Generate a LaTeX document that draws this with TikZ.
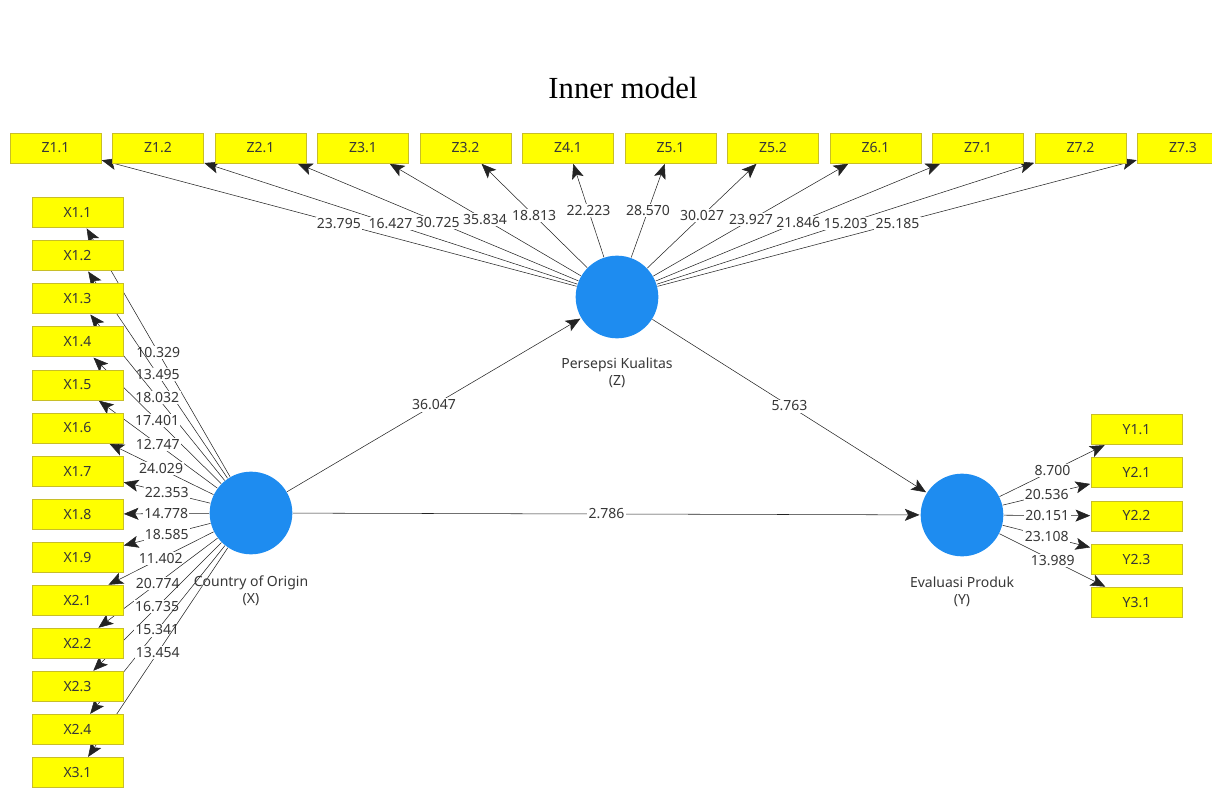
\documentclass[tikz,border=0pt]{standalone}
\usepackage{fontspec}
\setsansfont{Noto Sans}
\newfontfamily\titlefont{Liberation Serif}
\usetikzlibrary{arrows.meta}

\definecolor{itemyellow}{RGB}{255,255,0}
\definecolor{itemborder}{RGB}{200,190,40}
\definecolor{latentblue}{RGB}{30,140,240}
\definecolor{labelgray}{RGB}{55,55,55}
\definecolor{linegray}{RGB}{35,35,35}

\pgfdeclarelayer{background}
\pgfsetlayers{background,main}

\begin{document}
\begin{tikzpicture}[x=0.75pt,y=-0.75pt,shorten >=0.5pt,line width=0.75pt,
  loading/.style={-{Stealth[length=11pt,width=9pt,inset=2.5pt]},linegray,every node/.style={value}},
  item node/.style={rectangle,fill=itemyellow,draw=itemborder,line width=0.5pt,minimum width=68pt,
    minimum height=22.5pt,inner sep=0pt,text=labelgray,font=\sffamily\fontsize{10.5}{12}\selectfont},
  latent node/.style={circle,fill=latentblue,minimum size=62pt,inner sep=0pt},
  latent name/.style={align=center,text=labelgray,font=\sffamily\fontsize{10.5}{13}\selectfont},
  value/.style={fill=white,inner sep=1pt,text=labelgray,font=\sffamily\fontsize{10.5}{12}\selectfont}]

  \useasboundingbox (0,0) rectangle (1212,791);

  \node[font=\titlefont\fontsize{23}{28}\selectfont,anchor=base] (title) at (623,99) {Inner model};

  % latent variables
  \node[latent node] (x) at (251,513) {};
  \node[latent node] (z) at (617,297) {};
  \node[latent node] (y) at (962,515) {};
  \node[latent name] (xname) at (251,591) {Country of Origin\\(X)};
  \node[latent name] (zname) at (617,373) {Persepsi Kualitas\\(Z)};
  \node[latent name] (yname) at (962,592) {Evaluasi Produk\\(Y)};

  % indicators Z
  \node[item node] (z11) at (55.5,148) {Z1.1};
  \node[item node] (z12) at (158,148) {Z1.2};
  \node[item node] (z21) at (260.5,148) {Z2.1};
  \node[item node] (z31) at (363,148) {Z3.1};
  \node[item node] (z32) at (465.5,148) {Z3.2};
  \node[item node] (z41) at (568,148) {Z4.1};
  \node[item node] (z51) at (670.5,148) {Z5.1};
  \node[item node] (z52) at (773,148) {Z5.2};
  \node[item node] (z61) at (875.5,148) {Z6.1};
  \node[item node] (z71) at (978,148) {Z7.1};
  \node[item node] (z72) at (1080.5,148) {Z7.2};
  \node[item node] (z73) at (1183,148) {Z7.3};

  % indicators X
  \node[item node] (x11) at (77.5,212.5) {X1.1};
  \node[item node] (x12) at (77.5,255.6) {X1.2};
  \node[item node] (x13) at (77.5,298.7) {X1.3};
  \node[item node] (x14) at (77.5,341.8) {X1.4};
  \node[item node] (x15) at (77.5,384.9) {X1.5};
  \node[item node] (x16) at (77.5,428.0) {X1.6};
  \node[item node] (x17) at (77.5,471.1) {X1.7};
  \node[item node] (x18) at (77.5,514.2) {X1.8};
  \node[item node] (x19) at (77.5,557.3) {X1.9};
  \node[item node] (x21) at (77.5,600.4) {X2.1};
  \node[item node] (x22) at (77.5,643.5) {X2.2};
  \node[item node] (x23) at (77.5,686.6) {X2.3};
  \node[item node] (x24) at (77.5,729.7) {X2.4};
  \node[item node] (x31) at (77.5,772.8) {X3.1};

  % indicators Y
  \node[item node] (y11) at (1136.5,429.5) {Y1.1};
  \node[item node] (y21) at (1136.5,472.7) {Y2.1};
  \node[item node] (y22) at (1136.5,515.9) {Y2.2};
  \node[item node] (y23) at (1136.5,559.1) {Y2.3};
  \node[item node] (y31) at (1136.5,602.3) {Y3.1};

  \begin{pgfonlayer}{background}
    \path[loading]
    (x) edge node {36.047} (z)
    (z) edge node {5.763} (y)
    (x) edge node {2.786} (y);

    \path[loading]
    (z) edge node {23.795} (z11)
    (z) edge node {16.427} (z12)
    (z) edge node {30.725} (z21)
    (z) edge node {35.834} (z31)
    (z) edge node {18.813} (z32)
    (z) edge node {22.223} (z41)
    (z) edge node {28.570} (z51)
    (z) edge node {30.027} (z52)
    (z) edge node {23.927} (z61)
    (z) edge node {21.846} (z71)
    (z) edge node {15.203} (z72)
    (z) edge node {25.185} (z73);

    \path[loading]
    (x) edge node {10.329} (x11)
    (x) edge node {13.495} (x12)
    (x) edge node {18.032} (x13)
    (x) edge node {17.401} (x14)
    (x) edge node {12.747} (x15)
    (x) edge node {24.029} (x16)
    (x) edge node {22.353} (x17)
    (x) edge node {14.778} (x18)
    (x) edge node {18.585} (x19)
    (x) edge node {11.402} (x21)
    (x) edge node {20.774} (x22)
    (x) edge node {16.735} (x23)
    (x) edge node {15.341} (x24)
    (x) edge node {13.454} (x31);

    \path[loading]
    (y) edge node {8.700} (y11)
    (y) edge node {20.536} (y21)
    (y) edge node {20.151} (y22)
    (y) edge node {23.108} (y23)
    (y) edge node {13.989} (y31);
  \end{pgfonlayer}

\end{tikzpicture}
\end{document}
